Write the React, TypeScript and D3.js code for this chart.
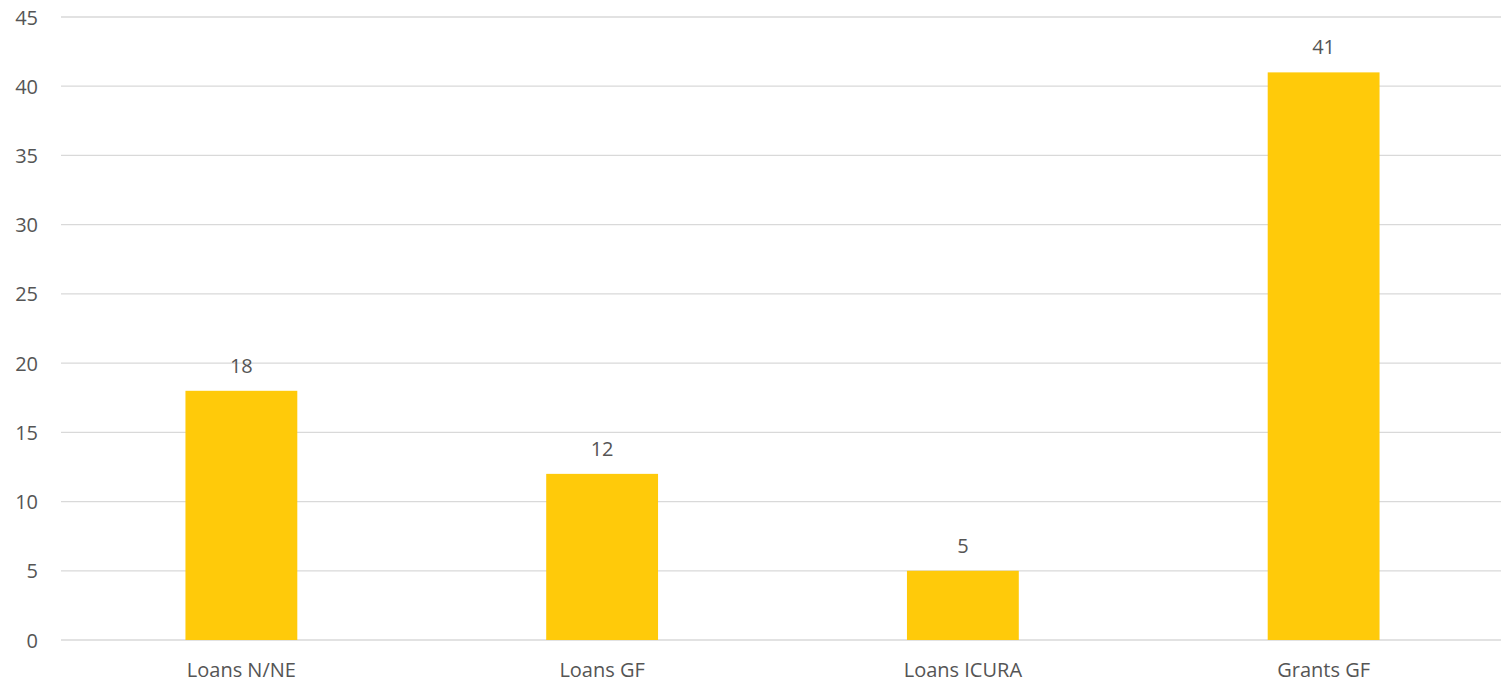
import React from "react";
import * as d3 from "d3";

const categories = ["Loans N/NE", "Loans GF", "Loans ICURA", "Grants GF"];
const values = [18, 12, 5, 41];
const yTicks = [0, 5, 10, 15, 20, 25, 30, 35, 40, 45];

const width = 1501;
const height = 682;
const font = "'Open Sans', sans-serif";
const textColor = "#555555";
const fontSize = 20;

const App = () => {
  const x = d3
    .scaleBand<string>()
    .domain(categories)
    .range([61, 1504])
    .paddingInner(0.69)
    .paddingOuter(0.345);
  const y = d3.scaleLinear().domain([0, 45]).range([640, 17]);

  return (
    <svg
      width={width}
      height={height}
      style={{ position: "absolute", left: 0, top: 0, background: "#fff" }}
    >
      {/* gridlines + y tick labels */}
      {yTicks.map((t) => (
        <g key={t}>
          <line
            x1={61}
            x2={width}
            y1={y(t)}
            y2={y(t)}
            stroke="#d9d9d9"
            strokeWidth={1.3}
          />
          <text
            x={38}
            y={y(t)}
            textAnchor="end"
            dominantBaseline="central"
            fontFamily={font}
            fontSize={fontSize}
            fill={textColor}
          >
            {t}
          </text>
        </g>
      ))}
      {/* bars */}
      {categories.map((c, i) => (
        <g key={c}>
          <rect
            x={x(c)}
            y={y(values[i])}
            width={x.bandwidth()}
            height={y(0) - y(values[i])}
            fill="#ffca0a"
          />
          <text
            x={(x(c) as number) + x.bandwidth() / 2}
            y={y(values[i]) - 18}
            textAnchor="middle"
            fontFamily={font}
            fontSize={fontSize}
            fill={textColor}
          >
            {values[i]}
          </text>
          <text
            x={(x(c) as number) + x.bandwidth() / 2}
            y={677}
            textAnchor="middle"
            fontFamily={font}
            fontSize={fontSize}
            fill={textColor}
          >
            {c}
          </text>
        </g>
      ))}
    </svg>
  );
};

export default App;
